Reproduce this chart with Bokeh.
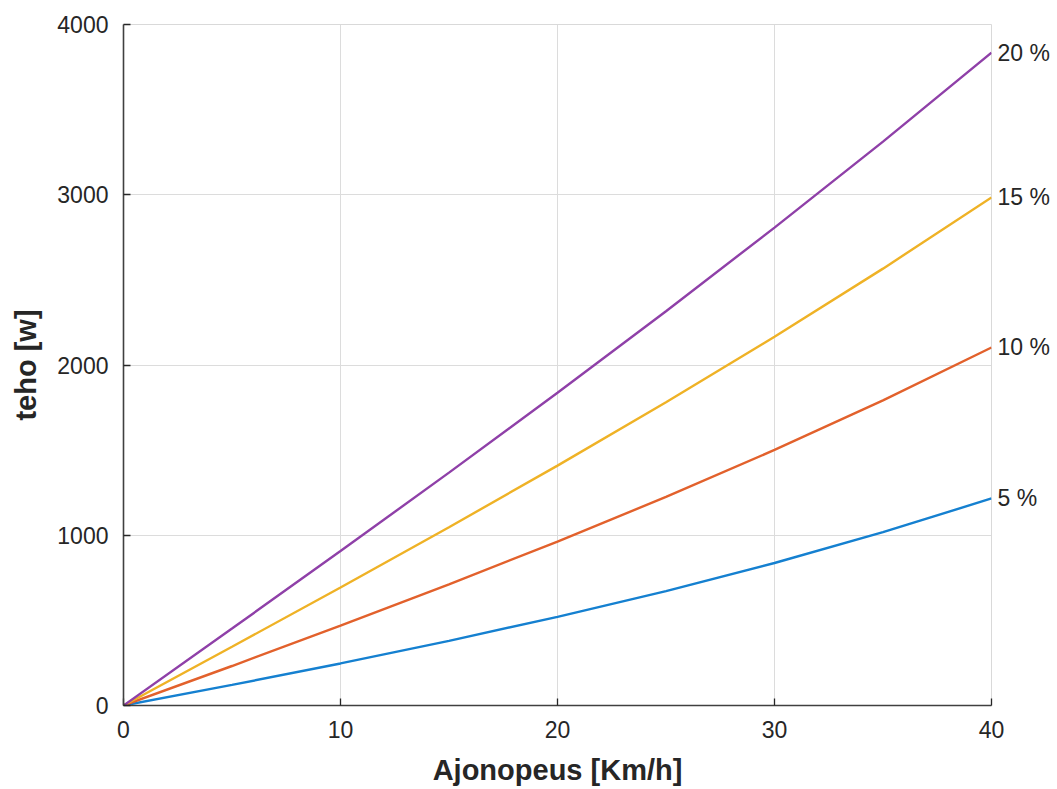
from bokeh.plotting import figure
from bokeh.models import Range1d, FixedTicker, LinearAxis
from bokeh.embed import file_html
from bokeh.resources import INLINE

speed = [0, 5, 10, 15, 20, 25, 30, 35, 40]
p5 = [0, 121, 247, 380, 521, 672, 837, 1018, 1216]
p10 = [0, 232, 469, 712, 963, 1225, 1501, 1792, 2103]
p15 = [0, 345, 693, 1047, 1409, 1781, 2166, 2566, 2984]
p20 = [0, 452, 907, 1368, 1837, 2316, 2807, 3312, 3835]
series_names = ["5 %", "10 %", "15 %", "20 %"]
series_vals = [p5, p10, p15, p20]
colors = ["#1580d0", "#e2612c", "#efb226", "#8f40a8"]
x_ticks = [0, 10, 20, 30, 40]
y_ticks = [0, 1000, 2000, 3000, 4000]

FONT = "Liberation Sans"
TXT = "#262626"

p = figure(width=1057, height=789, output_backend="svg", toolbar_location=None,
           x_range=Range1d(0, 40), y_range=Range1d(0, 4000),
           min_border_left=123, min_border_right=66, min_border_top=24, min_border_bottom=84)
p.background_fill_color = "white"
p.border_fill_color = "white"
p.outline_line_color = "#d9d9d9"
p.outline_line_width = 1

for vals, c in zip(series_vals, colors):
    p.line(speed, vals, line_color=c, line_width=2.4)

# end-of-line labels via a right axis whose ticks sit at each series' last value
end_vals = [v[-1] for v in series_vals]
right = LinearAxis(ticker=FixedTicker(ticks=end_vals),
                   major_label_overrides={v: n for v, n in zip(end_vals, series_names)})
right.axis_line_color = None
right.major_tick_line_color = None
right.minor_tick_line_color = None
right.major_label_standoff = 0
right.major_label_text_font = FONT
right.major_label_text_font_size = "23px"
right.major_label_text_color = TXT
p.add_layout(right, "right")

for ax, ticks in ((p.xaxis[0], x_ticks), (p.yaxis[0], y_ticks)):
    ax.ticker = FixedTicker(ticks=ticks)
    ax.major_tick_in = 7
    ax.major_tick_out = 0
    ax.minor_tick_in = 0
    ax.minor_tick_out = 0
    ax.axis_line_color = "#404040"
    ax.axis_line_width = 1.6
    ax.major_tick_line_color = "#262626"
    ax.major_tick_line_width = 1.3
    ax.major_label_text_font = FONT
    ax.major_label_text_font_size = "23px"
    ax.major_label_text_color = TXT
    ax.axis_label_text_font = FONT
    ax.axis_label_text_font_size = "29px"
    ax.axis_label_text_font_style = "bold"
    ax.axis_label_text_color = TXT

p.xaxis[0].axis_label = "Ajonopeus [Km/h]"
p.yaxis[0].axis_label = "teho [w]"
p.xaxis[0].major_label_standoff = 15
p.yaxis[0].major_label_standoff = 15
p.xaxis[0].axis_label_standoff = 13
p.yaxis[0].axis_label_standoff = 12

p.xgrid.grid_line_color = "#dcdcdc"
p.ygrid.grid_line_color = "#dcdcdc"
p.ygrid.ticker = FixedTicker(ticks=y_ticks)
p.xgrid.ticker = FixedTicker(ticks=x_ticks)

open("out.html", "w").write(file_html(p, INLINE))
